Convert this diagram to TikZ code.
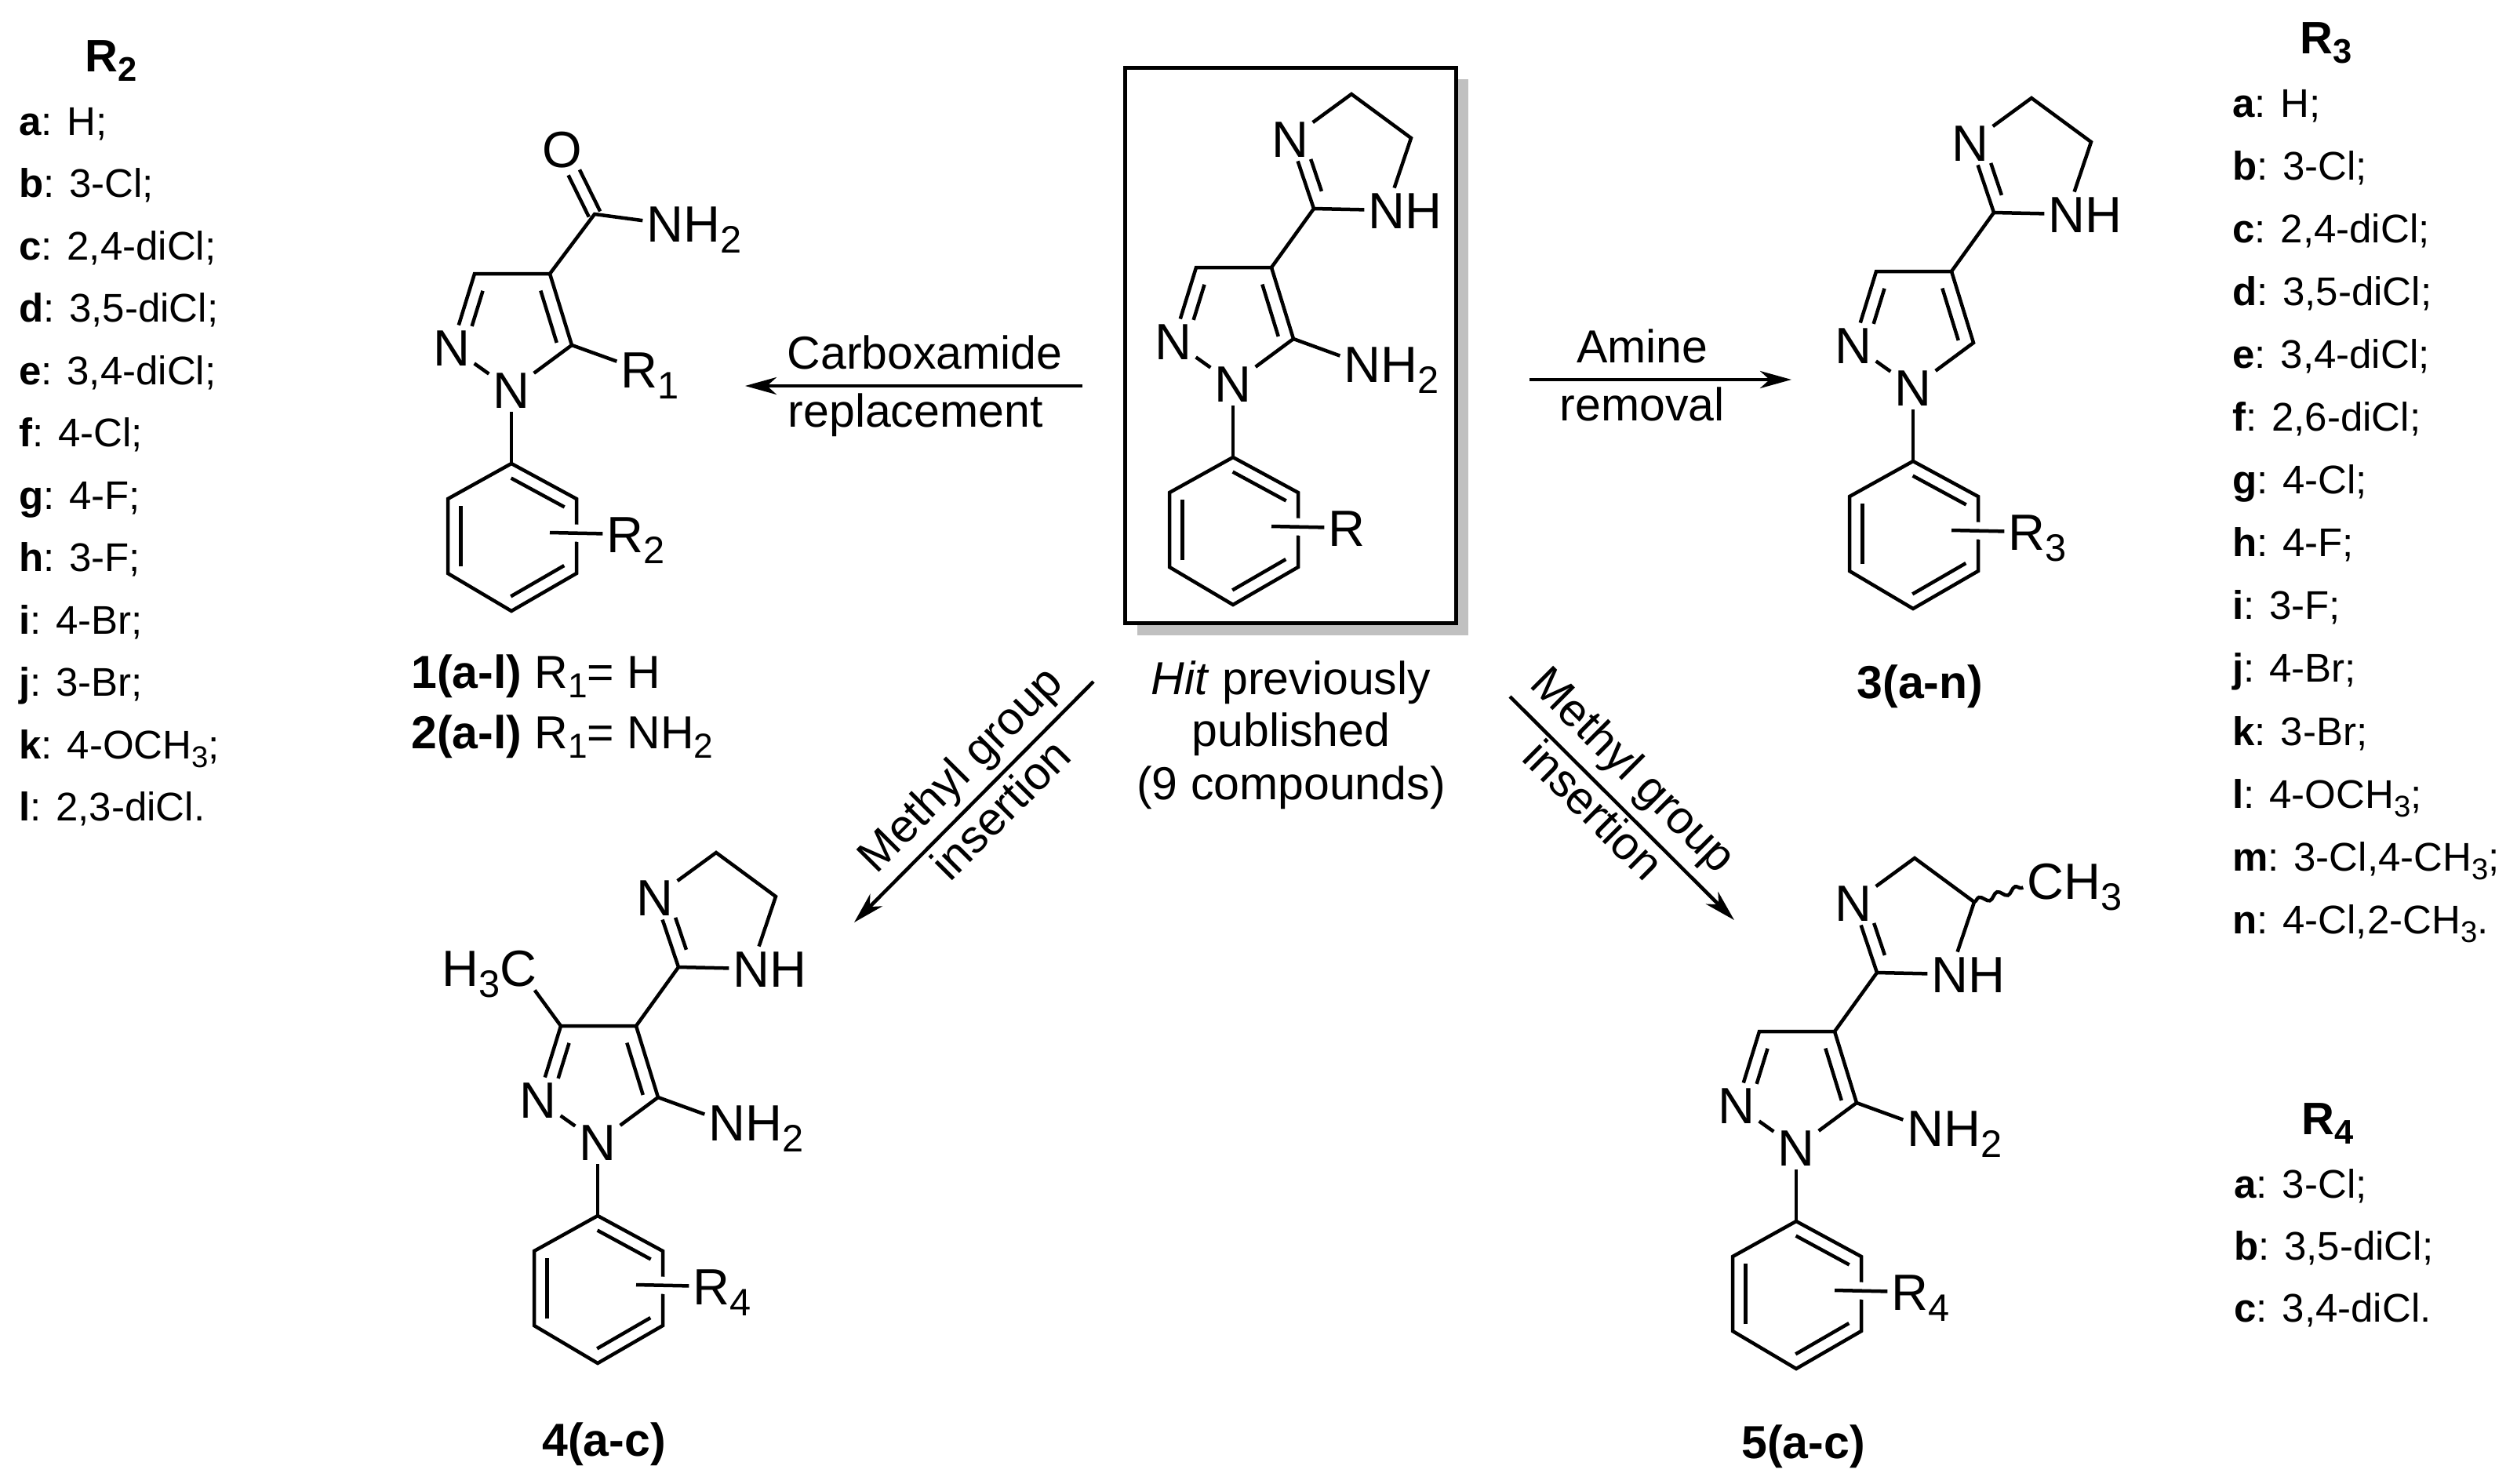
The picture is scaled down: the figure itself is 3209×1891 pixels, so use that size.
\documentclass[tikz,border=0pt]{standalone}
\usepackage{fontspec}
\setmainfont{Liberation Sans}
\usepackage{tikz}
\usetikzlibrary{positioning}
\usetikzlibrary{calc}
\usetikzlibrary{arrows.meta}
\usetikzlibrary{decorations.pathmorphing}
\newcommand{\chemsub}[1]{\raisebox{-.22em}{\scalebox{.75}{#1}}}
\newcommand{\fsize}[1]{\fontsize{#1pt}{#1pt}\selectfont}
\tikzset{
    atom/.style={font=\fsize{65}, inner sep=5pt, text height=46.5pt, text depth=0pt},
    bond/.style={line width=4.5pt, line join=miter},
    crossbond/.style={bond, preaction={draw, white, line width=22pt}},
    wavybond/.style={bond, decorate, decoration={snake, amplitude=4pt, segment length=24pt}},
    reaction/.style={line width=4.5pt, -{Stealth[length=40pt, width=22pt, inset=12pt]}},
    steplabel/.style={font=\fsize{59}, inner sep=0pt, text height=44pt, text depth=12.4pt},
    plainlabel/.style={font=\fsize{59}, inner sep=0pt, anchor=base},
    captionlabel/.style={font=\fsize{59}, inner sep=0pt},
    listhead/.style={font=\fsize{58}\bfseries, inner sep=0pt, anchor=base west},
    listitem/.style={font=\fsize{51}, inner sep=0pt, anchor=base west}
}
% inner line of a double bond: [offset] from, to, start, end, side
\newcommand{\dblbond}[6][16.5pt]{
    \draw [bond] ($(#2)!#4!(#3)!#1!#6:(#3)$) -- ($(#2)!#5!(#3)!#1!#6:(#3)$);
}
% pyrazole with its phenyl ring, C4 is the origin
\newcommand{\pyrazolecore}[1]{
    \coordinate (C4) at (0,0);
    \coordinate (C3) at (-96,0);
    \coordinate (C5) at (28,91);
    \node [atom] (N2) at (-125,94) {N};
    \node [atom] (N1) at (-49,148) {N};
    \coordinate (Ph1) at (-49,242);
    \coordinate (Ph2) at (34,287);
    \coordinate (Ph3) at (34,382);
    \coordinate (Ph4) at (-49,430);
    \coordinate (Ph5) at (-130,382);
    \coordinate (Ph6) at (-130,287);
    \coordinate (Rstart) at (0,330);
    \node [atom] (Rgroup) at (96,332) {R\rlap{\chemsub{#1}}};
    \draw [bond] (N2) -- (C3) -- (C4) -- (C5) -- (N1);
    \draw [bond] (N2) -- (N1);
    \draw [bond] (N1) -- (Ph1);
    \draw [bond] (Ph1) -- (Ph2) -- (Ph3) -- (Ph4) -- (Ph5) -- (Ph6) -- cycle;
    \dblbond{C3}{N2}{.18}{.66}{90}
    \dblbond[17.5pt]{C4}{C5}{.18}{.91}{-90}
    \dblbond{Ph1}{Ph2}{.09}{.91}{-90}
    \dblbond{Ph3}{Ph4}{.09}{.91}{-90}
    \dblbond{Ph5}{Ph6}{.09}{.91}{-90}
    \draw [crossbond] (Rstart) -- (Rgroup);
}
\newcommand{\imidazoline}{
    \coordinate (C2) at (54,-75);
    \coordinate (CH2a) at (102,-221);
    \coordinate (CH2b) at (178,-165);
    \node [atom] (N3) at (24,-164) {N};
    \node [atom] (N4) at (147,-73) {N\rlap{H}};
    \draw [bond] (C4) -- (C2) -- (N4) -- (CH2b) -- (CH2a) -- (N3) -- (C2);
    \dblbond{C2}{N3}{.19}{.65}{-90}
}
\newcommand{\aminogroup}{
    \node [atom] (NH2) at (116,123) {N\rlap{H\chemsub{2}}};
    \draw [bond] (C5) -- (NH2);
}

\begin{document}
\begin{tikzpicture}[x=1pt, y=-1pt]
    \useasboundingbox (0,0) rectangle (3209,1891);

    % hit compound in its box
    \node (hitshadow) [fill={rgb,255:red,192;green,192;blue,192}, minimum width=422pt, minimum height=709pt] at (1661,455) {};
    \node (hitbox) [draw, line width=5pt, fill=white, minimum width=422pt, minimum height=708pt] at (1645,440) {};
    \begin{scope}[shift={(1621,341)}, name prefix=hit-]
        \pyrazolecore{}
        \imidazoline
        \aminogroup
    \end{scope}
    \node (hitline1) [plainlabel] at (1646,885) {\textit{Hit} previously};
    \node (hitline2) [plainlabel] at (1646,951) {published};
    \node (hitline3) [plainlabel] at (1646,1019) {(9 compounds)};

    % compounds 1 and 2
    \begin{scope}[shift={(701,349)}, name prefix=amide-]
        \pyrazolecore{2}
        \coordinate (CO) at (57,-76);
        \node [atom] (O) at (16,-159) {O};
        \node [atom] (NH2) at (147,-64) {N\rlap{H\chemsub{2}}};
        \node [atom] (Rone) at (114,122) {R\rlap{\chemsub{1}}};
        \draw [bond] (C4) -- (CO) -- (NH2);
        \draw [bond] (C5) -- (Rone);
        \dblbond[8pt]{CO}{O}{0}{.64}{90}
        \dblbond[8pt]{CO}{O}{0}{.64}{-90}
    \end{scope}
    \node (cap1) [captionlabel, anchor=base west] at (524,877) {\textbf{1(a-l)} R\chemsub{1}= H};
    \node (cap2) [captionlabel, anchor=base west] at (524,954) {\textbf{2(a-l)} R\chemsub{1}= NH\chemsub{2}};

    % compound 3
    \begin{scope}[shift={(2488,346)}, name prefix=amine-]
        \pyrazolecore{3}
        \imidazoline
    \end{scope}
    \node (cap3) [captionlabel, anchor=base] at (2448,890) {\textbf{3(a-n)}};

    % compound 4
    \begin{scope}[shift={(811,1308)}, name prefix=methylA-]
        \pyrazolecore{4}
        \imidazoline
        \aminogroup
        \node [atom] (CH3) at (-150,-74) {\llap{H\chemsub{3}}C};
        \draw [bond] (C3) -- (CH3);
    \end{scope}
    \node (cap4) [captionlabel, anchor=base] at (770,1856) {\textbf{4(a-c)}};

    % compound 5
    \begin{scope}[shift={(2339,1315)}, name prefix=methylB-]
        \pyrazolecore{4}
        \imidazoline
        \aminogroup
        \node [atom] (CH3) at (269,-192) {C\rlap{H\chemsub{3}}};
        \draw [wavybond] (CH2b) -- (CH3);
    \end{scope}
    \node (cap5) [captionlabel, anchor=base] at (2299,1859) {\textbf{5(a-c)}};

    % reaction arrows
    \coordinate (amideA) at (1380,492);
    \coordinate (amideB) at (950,492);
    \coordinate (amineA) at (1950,484);
    \coordinate (amineB) at (2284,484);
    \coordinate (methylAa) at (1394,869);
    \coordinate (methylAb) at (1089,1176);
    \coordinate (methylBa) at (1925,888);
    \coordinate (methylBb) at (2211,1173);
    \draw [reaction] (amideA) -- (amideB)
        node [steplabel, pos=.467, above=6.6pt] (amideTop) {Carboxamide}
        node [steplabel, pos=.495, below=6pt] (amideBottom) {replacement};
    \draw [reaction] (amineA) -- (amineB)
        node [steplabel, pos=.43, above=6.6pt] (amineTop) {Amine}
        node [steplabel, pos=.43, below=6pt] (amineBottom) {removal};
    \draw [reaction] (methylAa) -- (methylAb)
        node [steplabel, pos=.46, sloped, above=8pt] (methylAtop) {Methyl group}
        node [steplabel, pos=.46, sloped, below=5pt] (methylAbottom) {insertion};
    \draw [reaction] (methylBa) -- (methylBb)
        node [steplabel, pos=.44, sloped, above=11pt] (methylBtop) {Methyl group}
        node [steplabel, pos=.44, sloped, below=1pt] (methylBbottom) {insertion};

    % substituent lists
    \node (headtwo) [listhead] at (108,91) {R\chemsub{2}};
    \foreach \rkey/\rtext [count=\i] in {a/H;, b/3-Cl;, c/{2,4-diCl;}, d/{3,5-diCl;}, e/{3,4-diCl;}, f/4-Cl;, g/4-F;, h/3-F;, i/4-Br;, j/3-Br;, k/4-OCH\chemsub{3};, l/{2,3-diCl.}}
        \node (listtwo\i) [listitem] at (24,{172+79.5*(\i-1)}) {\textbf{\rkey}: \rtext};
    \node (headthree) [listhead] at (2932,68) {R\chemsub{3}};
    \foreach \rkey/\rtext [count=\i] in {a/H;, b/3-Cl;, c/{2,4-diCl;}, d/{3,5-diCl;}, e/{3,4-diCl;}, f/{2,6-diCl;}, g/4-Cl;, h/4-F;, i/3-F;, j/4-Br;, k/3-Br;, l/4-OCH\chemsub{3};, m/{3-Cl,4-CH\chemsub{3};}, n/{4-Cl,2-CH\chemsub{3}.}}
        \node (listthree\i) [listitem] at (2846,{149+80.1*(\i-1)}) {\textbf{\rkey}: \rtext};
    \node (headfour) [listhead] at (2934,1446) {R\chemsub{4}};
    \foreach \rkey/\rtext [count=\i] in {a/3-Cl;, b/{3,5-diCl;}, c/{3,4-diCl.}}
        \node (listfour\i) [listitem] at (2848,{1527+79*(\i-1)}) {\textbf{\rkey}: \rtext};
\end{tikzpicture}
\end{document}
